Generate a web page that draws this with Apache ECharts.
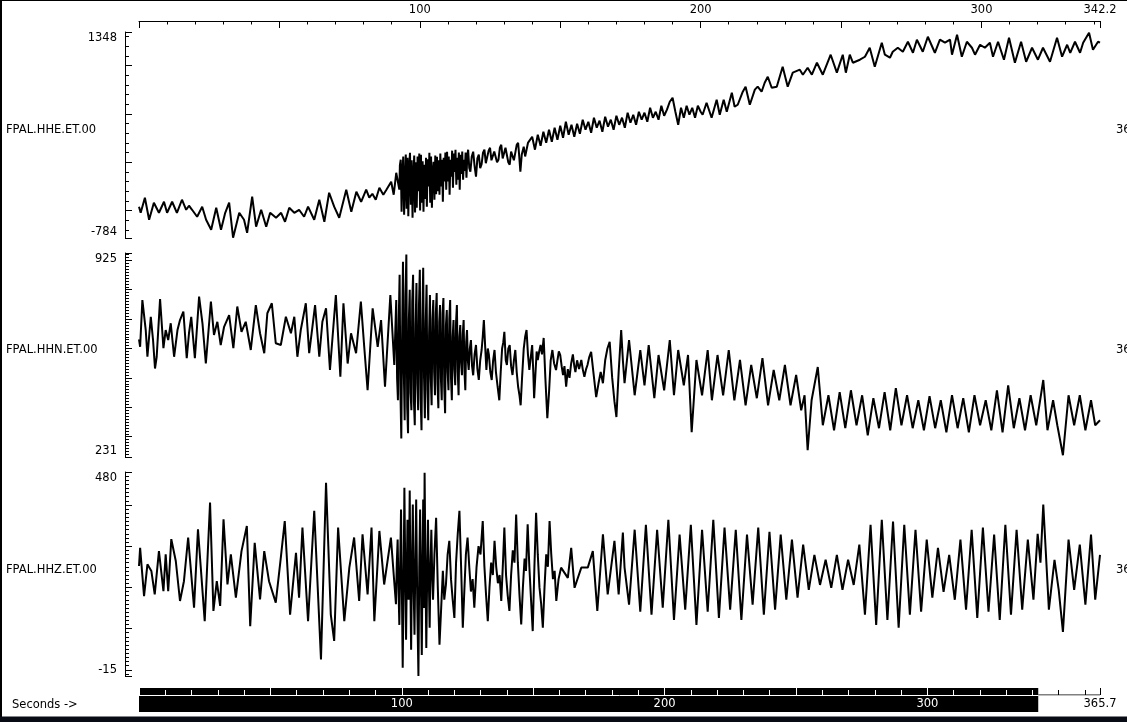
<!DOCTYPE html>
<html><head><meta charset="utf-8">
<script src="https://cdn.jsdelivr.net/npm/echarts@6/dist/echarts.min.js"></script>
<style>html,body{margin:0;padding:0;background:#fff;overflow:hidden}#c{width:1127px;height:722px}</style>
</head><body><div id="c"></div>
<script>
// ---------- data ----------
const stations = ['FPAL.HHE.ET.00', 'FPAL.HHN.ET.00', 'FPAL.HHZ.ET.00'];
const rightLabels = ['365.7', '365.7', '365.7'];
const axisCaption = 'Seconds ->';
const viewEnd = 342.2;          // end of displayed window (s)
const totalEnd = 365.7;         // end of full record (s)
const windowSpan = [0, 342.2];  // highlighted part of record
const topTickLabels = [100, 200, 300, 342.2];
const bottomTickLabels = [100, 200, 300, 365.7];
const yRanges = [[-784, 1348], [231, 925], [-15, 480]];
const yMinorStep = [100, 10, 10];
const yMajorStep = [500, 100, 100];

const hhe = [[0,-460],[0.6,-523],[2.1,-367],[3.6,-595],[5.3,-419],[7.1,-523],[8.9,-409],[10,-523],[11.8,-409],[13.5,-523],[15.3,-388],[16.8,-492],[17.8,-450],[18.9,-492],[20.7,-564],[22.5,-460],[23.9,-595],[25.7,-699],[27.5,-471],[29.2,-699],[30.7,-523],[32.1,-419],[33.5,-781],[35.7,-523],[37.4,-595],[38.5,-730],[40.3,-357],[41.7,-667],[43.5,-492],[45.3,-667],[46.7,-523],[48.8,-574],[50.6,-523],[52,-616],[53.5,-471],[55.3,-523],[57,-492],[58.8,-564],[60.2,-460],[62.4,-595],[64.2,-388],[66,-616],[67.7,-316],[69.5,-460],[71.3,-574],[73.8,-284],[75.6,-512],[77.4,-305],[79.1,-409],[80.9,-284],[82,-367],[83.1,-326],[84.3,-388],[85.6,-264],[87,-336],[88.1,-284],[89.8,-202],[90.7,-336],[91.6,-109],[92.7,-284],
[92.9,-30],[93.2,26],[93.5,-512],[93.8,-100],[94.1,60],[94.4,-543],[94.7,-200],[95,80],[95.3,-480],[95.6,47],[95.9,-560],[96.2,-50],[96.5,98],[96.8,-440],[97.1,20],[97.4,-574],[97.7,-150],[98,70],[98.3,-520],[98.6,0],[98.9,-470],[99.2,60],[99.5,-300],[99.8,90],[100.1,-500],[100.4,78],[100.7,-420],[101,10],[101.3,-512],[101.6,-26],[101.9,-380],[102.2,47],[102.5,-460],[102.8,30],[103.1,-250],[103.4,98],[103.7,-420],[104,60],[104.3,-471],[104.6,-100],[104.9,5],[105.2,-388],[105.5,70],[105.8,-330],[106.1,57],[106.4,-300],[106.7,20],[107,-336],[107.3,90],[107.6,-250],[107.9,26],[108.2,-409],[108.5,47],[108.8,-200],[109.1,100],[109.4,-284],[109.7,109],[110,-200],[110.3,60],[110.6,-336],[110.9,26],[111.2,-150],[111.5,120],[111.8,-264],[112.1,90],[112.4,-100],[112.7,130],[113,-233],[113.3,47],[113.6,-180],[113.9,100],[114.2,-284],[114.5,78],[114.8,-120],[115.1,110],[115.4,-181],[115.7,26],[116,-90],[116.3,100],[116.6,-160],[116.9,60],[117.2,130],
[117.6,-60],[118,-98],[118.5,60],[119,109],[119.5,-40],[120,-150],[120.5,40],[121,78],[121.5,-60],[122,-20],[122.5,100],[123,130],[123.5,-10],[124,-26],[124.5,120],[125,150],[125.5,20],[126,5],[126.5,110],[127,130],[127.5,0],[128,26],[128.5,150],[129,181],[129.5,40],[130,47],[130.5,150],[131,161],[131.5,0],[132,-26],[132.5,110],[133,130],[133.5,20],[134,26],[134.5,180],[135,202],[135.4,60],[135.8,-98],[136.3,80],[137,161],[137.5,60],[138,78],[138.5,200],[139,181],
[140,264],[141,130],[142,285],[143,171],[144,316],[145,202],[146,337],[147,212],[148,357],[149,233],[150,378],[151,254],[152,419],[153,285],[154,388],[155,264],[156,399],[157,295],[158,440],[159,337],[160,419],[161,305],[162,461],[163,357],[164,430],[165,316],[166,471],[167,368],[168,440],[169,337],[170,481],[171,388],[172,461],[173,357],[174,513],[175,409],[176,492],[177,388],[178,523],[179,440],[180,513],[181,419],[182,564],[183,461],[184,523],[185,440],[186,585],[187,481],[188,544],[189,626],[190,668],[191,523],[192,388],[193,564],[194,461],[195,585],[196,492],[197,564],[198,461],[199,585],[200,523],
[200.7,492],[202.1,616],[203.9,461],[205.7,647],[206.8,492],[208.2,647],[209.3,523],[211.1,720],[212.1,575],[213.2,595],[215,730],[216,782],[217.5,595],[219.3,751],[220.3,782],[221.7,730],[222.8,823],[223.9,885],[225.3,771],[227.1,782],[229.2,989],[231,782],[232.8,927],[235.3,958],[236.4,906],[238.1,978],[239.6,906],[241.4,1030],[243.5,906],[246.3,1113],[248.5,927],[250.6,1113],[251.7,927],[253.1,1113],[254.2,1030],[256.7,1061],[258.5,1092],[260.2,1185],[262,989],[264.5,1237],[265.6,1113],[267.4,1082],[268.4,1144],[270.2,1185],[272,1144],[273.8,1247],[275.6,1133],[277,1268],[279.1,1144],[280.9,1299],[283.4,1133],[285.2,1268],[287,1237],[288.8,1268],[289.5,1113],[291.3,1320],[293,1092],[294.8,1247],[296.6,1185],[297.7,1113],[299.5,1216],[301.2,1185],[303,1237],[304.1,1092],[305.9,1247],[308,1061],[309.8,1289],[311.9,1030],[314.1,1247],[315.9,1040],[318,1185],[320.1,1061],[321.9,1185],[324.4,1040],[326.9,1289],[328.7,1092],[330.5,1216],[331.6,1133],[333.3,1247],[335.1,1133],[336.2,1237],[338.3,1340],[339.7,1165],[341.5,1247],[342.2,1237]];

const hhn = [[0,631],[0.4,606],[1.2,765],[2.4,663],[3,572],[4.2,708],[5,629],[5.7,532],[6.3,572],[7.5,768],[8.7,601],[9.5,663],[10.4,629],[11.3,686],[12.5,572],[13.7,663],[14.6,697],[15.8,726],[17,567],[17.8,652],[18.6,708],[19.9,567],[21.4,777],[22.6,686],[23.8,549],[25.6,760],[26.7,646],[27.9,691],[29.1,612],[30.3,674],[32.1,714],[33.6,601],[35,743],[36.5,657],[38,691],[39.8,595],[41.6,748],[43.1,652],[44.6,584],[45.7,720],[47.3,754],[48.7,618],[50.5,612],[52.3,708],[54.1,652],[55.3,708],[56.4,572],[57.6,663],[59.4,754],[60.6,584],[62.7,748],[64.2,572],[65.3,691],[66.6,737],[68,527],[70.1,782],[71.7,504],[72.8,754],[74.3,549],[75.5,652],[77.3,584],[79,760],[80.2,606],[81.4,458],[83.2,737],[85,606],[86.2,697],[87.6,470],[89.5,782],[90.9,544],
[91.6,765],[91.9,500],[92.2,424],[92.5,700],[92.8,851],[93.1,450],[93.4,294],[93.7,650],[94,895],[94.3,520],[94.6,356],[94.9,780],[95.2,920],[95.5,400],[95.8,312],[96.1,700],[96.4,800],[96.7,450],[97,390],[97.3,760],[97.6,851],[97.9,420],[98.2,339],[98.5,680],[98.8,823],[99.1,480],[99.4,390],[99.7,750],[100,868],[100.3,430],[100.6,322],[100.9,700],[101.2,875],[101.5,500],[101.8,363],[102.1,690],[102.4,817],[102.7,460],[103,356],[103.3,650],[103.6,782],[103.9,500],[104.2,407],[104.5,700],[104.8,765],[105.1,520],[105.4,441],[105.7,720],[106,789],[106.3,480],[106.6,397],[106.9,690],[107.2,748],[107.5,500],[107.8,424],[108.1,720],[108.4,772],[108.7,470],[109,380],[109.3,680],[109.6,731],[109.9,520],[110.2,458],[110.5,700],[110.8,765],[111.1,500],[111.4,424],[111.7,640],[112,697],[112.3,530],[112.6,475],[112.9,690],[113.2,748],[113.5,520],[113.8,441],[114.1,640],[114.4,680],[114.7,550],[115,509],[115.3,650],[115.6,697],[115.9,520],[116.2,458],[116.5,620],[116.8,663],[117.1,560],[117.4,527],[117.8,600],[118.2,629],[118.6,540],[119,509],[119.5,580],[120,612],[120.5,530],[121,493],[121.5,560],[122,595],[122.4,640],[122.8,697],[123.3,600],[123.7,527],[124.2,600],[124.6,578],[125.1,520],[125.6,493],[126.1,560],[126.6,595],[127.1,520],[127.7,470],[128.3,424],[128.8,520],[129.3,600],[129.7,620],[130.1,657],[130.6,560],[131,544],[131.5,600],[132,612],[132.5,540],[133,510],[133.5,560],[134,595],[134.5,520],[135,470],[135.5,440],[135.9,407],[136.4,500],[137,600],[137.5,640],[138,663],[138.5,580],[139,527],[139.5,570],[140,612],[140.4,520],[140.7,431],[141.2,520],[141.6,590],[142,561],[142.5,590],[143,612],[143.5,580],[144.1,636],[144.7,500],[145.4,363],[146,450],[146.6,560],[147.2,595],[147.8,550],[148.5,527],[149,560],[149.5,590],[150,578],[150.5,540],[151,510],[151.5,540],[152.1,470],[152.7,530],[153.3,500],[153.9,550],[154.5,580],[155,540],[155.4,520],[156,560],[156.7,530],[157.5,561],[158,530],[158.6,504],[159.2,530],[159.7,544],[160.3,570],[161,589],[161.8,520],[162.8,435],[163.6,480],[164.4,520],[165.2,482],[166,560],[166.8,600],[167.6,623],[168.5,500],[169.3,420],[170,367],[170.8,520],[171.7,663],[172.3,560],[172.9,482],
[174.5,629],[176.5,441],[178.5,595],[180,475],[181.5,612],[183.5,431],[185,578],[187,458],[189,629],[190.5,441],[192,595],[194,475],[195.5,578],[196.8,315],[198.5,561],[200.5,441],[202.5,595],[204,424],[206,578],[208,441],[210,595],[212,424],[214,561],[216,407],[218,544],[220,431],[222,567],[224,407],[226,527],[228,424],[230,544],[232,407],[234,510],[235.8,390],[237,441],[238.1,254],[239.5,424],[241.7,537],[243.5,339],[245.5,441],[247.5,322],[249.5,452],[251.5,329],[253.5,458],[255.5,339],[257.5,441],[259.5,305],[261.5,431],[263.5,329],[265.5,452],[267.5,322],[269.5,465],[271.5,339],[273.5,441],[275.5,329],[277.5,424],[279.5,322],[281.5,438],[283.5,329],[285.5,424],[287.5,315],[289.5,441],[291.5,329],[293.5,431],[295.5,315],[297.5,441],[299.5,339],[301.5,424],[303.5,322],[305.5,458],[307.5,315],[309.5,475],[311.5,329],[313.5,431],[315.5,322],[317.5,441],[319.5,339],[322,493],[323.5,322],[325.5,424],[327,339],[329,237],[331,441],[333,339],[335,441],[337,322],[339,424],[340.5,339],[342.2,356]];

const hhz = [[0,252],[0.4,296],[1.8,179],[3,256],[4.4,240],[5.6,183],[7.1,288],[8.7,191],[9.5,280],[10.4,191],[11.5,317],[13.1,264],[14.6,167],[16,215],[17.5,321],[19.6,151],[21,341],[22,248],[23.4,118],[24.3,256],[25.3,406],[26.5,143],[27.7,215],[28.9,155],[30.1,365],[31.5,207],[32.7,280],[34.5,175],[36.5,288],[38.4,349],[39.6,106],[41.2,308],[43.1,171],[44.6,288],[46.3,215],[48.7,163],[50.5,272],[51.9,361],[53.8,134],[55.9,284],[57,175],[58.2,345],[60.2,118],[62.4,386],[64.8,25],[66.6,454],[68.3,134],[69.5,70],[70.9,345],[73.1,118],[74.9,248],[76.6,321],[78.4,167],[79.6,329],[81.4,183],[82.8,345],[83.8,118],[85.6,337],[87.3,207],[89.7,321],
[91.5,159],[91.8,260],[92.1,316],[92.4,200],[92.7,109],[93,250],[93.3,389],[93.6,200],[93.9,5],[94.2,200],[94.5,442],[94.8,250],[95.1,73],[95.4,250],[95.6,364],[95.8,250],[96,170],[96.2,300],[96.4,435],[96.65,200],[96.9,49],[97.2,250],[97.5,401],[97.8,200],[98.1,85],[98.4,260],[98.7,413],[99.1,150],[99.5,-15],[99.8,250],[100.1,389],[100.4,200],[100.7,36],[100.95,250],[101.2,413],[101.45,150],[101.7,478],[102,250],[102.3,53],[102.6,220],[102.9,364],[103.2,220],[103.5,102],[103.8,250],[104.1,340],[104.4,230],[104.7,170],[105.2,280],[105.8,369],[106.4,200],[107,61],[107.6,150],[108.2,240],[108.7,170],[109.3,207],[109.9,280],[110.5,313],[111.1,220],[111.7,170],[112.3,126],[112.9,260],[113.5,330],[114.1,386],[114.7,250],[115.3,102],[115.9,200],[116.4,280],[117,321],[117.6,250],[118.2,190],[118.8,220],[119.4,151],[120.2,250],[120.9,300],[121.6,280],[122.4,361],[123,250],[123.6,180],[124.2,118],[124.8,200],[125.4,260],[126,230],[126.6,313],[127.2,250],[127.8,210],[128.4,230],[129,167],[129.6,260],[130.1,345],[130.7,230],[131.3,180],[131.9,143],[132.5,230],[133.1,290],[133.7,260],[134.3,377],[134.9,260],[135.5,180],[136.1,110],[136.7,200],[137.3,270],[137.8,240],[138.4,353],[139,250],[139.6,170],[140.2,94],[140.8,250],[141.4,381],[142,280],[142.6,200],[143.2,160],[143.8,102],[144.4,200],[145,280],[145.6,250],[146.2,361],[146.8,280],[147.4,220],[148,240],[148.6,167],[149.4,220],[150.3,248],
[152.7,223],[153.9,296],[155.1,199],[157.5,248],[159.8,248],[161.6,288],[163.2,143],[165.2,329],[166.9,183],[169.3,313],[170.8,183],[172.3,333],[172.9,248],
[174.5,158],[176.5,340],[178.5,141],[180.5,352],[182.5,134],[184.5,340],[186.5,151],[188.5,364],[190.5,121],[192.5,328],[194.5,146],[196.5,352],[198.5,109],[200.5,340],[202.5,141],[204.5,364],[206.5,126],[208.5,345],[210.5,146],[212.5,340],[214.5,121],[216.5,328],[218.5,158],[220.5,345],[222.5,134],[224.5,335],[226.5,146],[228.5,328],[230.5,170],[232.5,316],[234.5,175],[236.5,304],[238.5,194],[240.5,279],[242.5,206],[244.5,267],[246.5,199],[248.5,279],[250.5,194],[252.5,267],[254.5,206],[256.5,304],[258.5,134],[260.5,352],[262.5,109],[264.5,364],[266.5,121],[268.5,360],[270.5,102],[272.5,352],[274.5,134],[276.5,340],[278.5,141],[280.5,316],[282.5,175],[284.5,296],[286.5,189],[288.5,279],[290.5,170],[292.5,316],[294.5,146],[296.5,340],[298.5,126],[300.5,345],[302.5,141],[304.5,328],[306.5,121],[308.5,352],[310.5,134],[312.5,340],[314.5,146],[316.5,316],[318.5,170],[320,330],[321,260],[322,401],[324,146],[326,267],[327.5,194],[329,92],[331,316],[333,194],[335,304],[337,158],[339,328],[340.5,170],[342.2,279]];

const traces = [hhe, hhn, hhz];

// ---------- layout / style ----------
const FONT = '"DejaVu Sans", sans-serif';
const FS = 11.5;
const GL = 139, GR = 27;
const panelTops = [32, 253, 472];
const panelHeights = [206, 204, 204];
const labelY = [130, 350, 570];

function multiples(lo, hi, step) {
  const out = [];
  for (let v = Math.ceil(lo / step - 1e-9) * step; v <= hi + 1e-9; v += step) out.push(Math.round(v * 10) / 10);
  return out;
}
const fmt = v => String(Math.round(Number(v) * 10) / 10);
const noLine = { show: false, onZero: false };
const blackLine = { show: true, onZero: false, lineStyle: { color: '#000', width: 1 } };

const grid = [];
panelTops.forEach((t, i) => grid.push({ left: GL, right: GR, top: t, height: panelHeights[i] }));
grid.push({ left: GL, right: GR, top: 688, height: 24 }); // 3: bar
grid.push({ left: GL, right: GR, top: 688, height: 7 });  // 4: ticks

const xAxis = [
  { gridIndex: 0, type: 'value', min: 0, max: viewEnd, position: 'top', offset: 11, z: 5,
    splitLine: { show: false }, axisLine: blackLine,
    axisTick: { show: true, inside: true, length: 3.5, customValues: multiples(0, viewEnd, 10), lineStyle: { color: '#000' } },
    axisLabel: { show: true, customValues: topTickLabels, formatter: fmt, margin: 5, color: '#000', fontFamily: FONT, fontSize: FS } },
  { gridIndex: 0, type: 'value', min: 0, max: viewEnd, position: 'top', offset: 11, z: 5,
    splitLine: { show: false }, axisLine: noLine,
    axisTick: { show: true, inside: true, length: 7, customValues: multiples(0, viewEnd, 50).concat([viewEnd]), lineStyle: { color: '#000' } },
    axisLabel: { show: false } },
  { gridIndex: 1, type: 'value', min: 0, max: viewEnd, show: false, axisLine: noLine },
  { gridIndex: 2, type: 'value', min: 0, max: viewEnd, show: false, axisLine: noLine },
  { gridIndex: 3, type: 'value', min: 0, max: totalEnd, show: false, axisLine: noLine },
  { gridIndex: 4, type: 'value', min: 0, max: totalEnd, position: 'bottom', z: 10,
    splitLine: { show: false },
    axisLine: { show: true, onZero: false, lineStyle: { color: '#fff', width: 1 } },
    axisTick: { show: true, inside: true, length: 5, customValues: multiples(0, windowSpan[1], 10), lineStyle: { color: '#fff' } },
    axisLabel: { show: true, customValues: bottomTickLabels, formatter: fmt, margin: 3, fontFamily: FONT, fontSize: FS,
      color: v => (Number(v) > windowSpan[1] ? '#000' : '#fff') } },
  { gridIndex: 4, type: 'value', min: 0, max: totalEnd, position: 'bottom', z: 10,
    splitLine: { show: false }, axisLine: noLine,
    axisTick: { show: true, inside: true, length: 7, customValues: multiples(0, windowSpan[1], 50), lineStyle: { color: '#fff' } },
    axisLabel: { show: false } },
  { gridIndex: 4, type: 'value', min: 0, max: totalEnd, position: 'bottom', z: 10,
    splitLine: { show: false }, axisLine: noLine,
    axisTick: { show: true, inside: true, length: 5, customValues: multiples(windowSpan[1], totalEnd, 10), lineStyle: { color: '#000' } },
    axisLabel: { show: false } },
  { gridIndex: 4, type: 'value', min: 0, max: totalEnd, position: 'bottom', z: 10,
    splitLine: { show: false }, axisLine: noLine,
    axisTick: { show: true, inside: true, length: 7, customValues: [totalEnd], lineStyle: { color: '#000' } },
    axisLabel: { show: false } }
];

const yAxis = [];
yRanges.forEach((r, i) => {
  const [lo, hi] = r;
  yAxis.push({ gridIndex: i, type: 'value', min: lo, max: hi, position: 'left', offset: 14,
    splitLine: { show: false }, axisLine: blackLine,
    axisTick: { show: true, inside: true, length: 4, customValues: multiples(lo, hi, yMinorStep[i]), lineStyle: { color: '#000' } },
    axisLabel: { show: true, customValues: [lo, hi], formatter: fmt, margin: 8, color: '#000', fontFamily: FONT, fontSize: FS,
      verticalAlignMinLabel: 'bottom', verticalAlignMaxLabel: 'top' } });
  yAxis.push({ gridIndex: i, type: 'value', min: lo, max: hi, position: 'left', offset: 14,
    splitLine: { show: false }, axisLine: noLine,
    axisTick: { show: true, inside: true, length: 7, customValues: [lo].concat(multiples(lo, hi, yMajorStep[i])).concat([hi]), lineStyle: { color: '#000' } },
    axisLabel: { show: false } });
});
yAxis.push({ gridIndex: 3, type: 'value', min: 0, max: 1, show: false, axisLine: noLine });
yAxis.push({ gridIndex: 4, type: 'value', min: 0, max: 1, show: false, axisLine: noLine });

const series = traces.map((d, i) => ({
  type: 'line', xAxisIndex: i === 0 ? 0 : i + 1, yAxisIndex: i * 2, data: d,
  symbol: 'none', showSymbol: false, silent: true, animation: false,
  lineStyle: { color: '#000', width: 2 }
}));
series.push({
  type: 'line', xAxisIndex: 4, yAxisIndex: 6, data: [[windowSpan[0], 0]], symbol: 'none', silent: true,
  lineStyle: { opacity: 0 },
  markArea: { silent: true, itemStyle: { color: '#000' }, data: [[{ xAxis: windowSpan[0] }, { xAxis: windowSpan[1] }]] }
});
series.push({
  type: 'line', xAxisIndex: 5, yAxisIndex: 7, data: [[windowSpan[1], 0], [totalEnd, 0]], symbol: 'none', silent: true,
  z: 11, lineStyle: { color: '#000', width: 1 }
});

const font = FS + 'px ' + FONT;
const graphic = [
  { type: 'rect', shape: { x: 0, y: 0, width: 2, height: 722 }, style: { fill: '#000' }, silent: true },
  { type: 'rect', shape: { x: 0, y: 0, width: 1127, height: 1 }, style: { fill: '#000' }, silent: true },
  { type: 'rect', shape: { x: 0, y: 716.5, width: 1127, height: 6 }, style: { fill: '#080a14' }, silent: true },
  { type: 'text', x: 12, y: 705, style: { text: axisCaption, font: font, fill: '#000', verticalAlign: 'middle' }, silent: true }
];
stations.forEach((s, i) => {
  graphic.push({ type: 'text', x: 6, y: labelY[i], style: { text: s, font: font, fill: '#000', verticalAlign: 'middle' }, silent: true });
  graphic.push({ type: 'text', x: 1116, y: labelY[i], style: { text: rightLabels[i], font: font, fill: '#000', verticalAlign: 'middle' }, silent: true });
});

const chart = echarts.init(document.getElementById('c'), null, { renderer: 'canvas' });
chart.setOption({
  animation: false,
  backgroundColor: '#fff',
  grid, xAxis, yAxis, series, graphic
});
</script></body></html>
